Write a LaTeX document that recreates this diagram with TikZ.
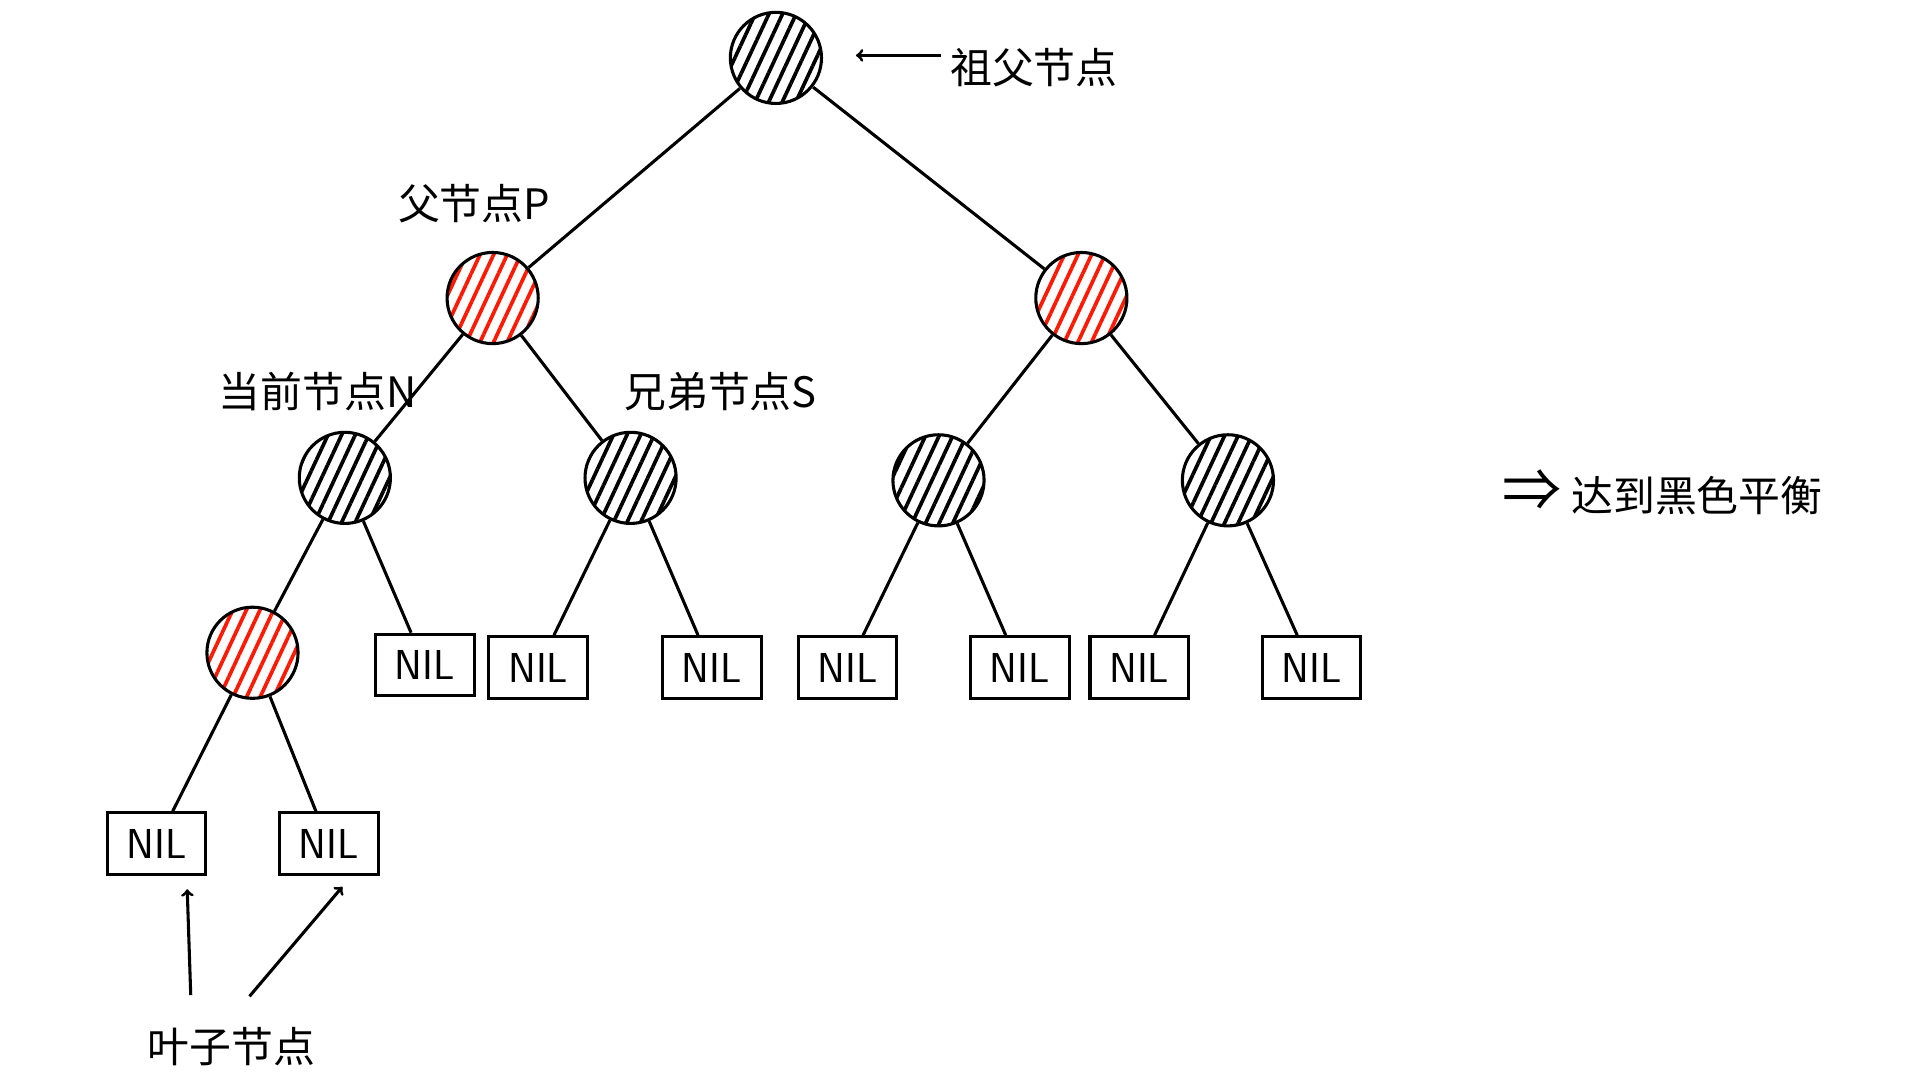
\documentclass[tikz,border=0pt]{standalone}
\usepackage{fontspec}
\newfontfamily\cjk{Noto Sans CJK SC}
\usetikzlibrary{patterns.meta}
\tikzset{
  blk/.style={circle, draw, line width=2.5pt, minimum size=74pt, inner sep=0pt,
    pattern={Lines[angle=65,distance=10pt,line width=3pt]}, pattern color=black},
  red/.style={blk, pattern color=red!80!orange},
  nil/.style={rectangle, draw, line width=2.5pt, minimum width=80pt, minimum height=50pt,
    font=\fontsize{34}{34}\selectfont\sffamily},
  lbl/.style={font=\fontsize{34}{34}\selectfont\cjk},
  edge/.style={line width=2.5pt},
  connect/.style={-to, line width=2.5pt, shorten <=4pt}
}
\begin{document}
\begin{tikzpicture}[x=1pt,y=-1pt]
  \useasboundingbox (0,0) rectangle (1550,877);
  \node[blk] (G) at (630,47) {};
  \node[red] (P) at (400,242) {};
  \node[red] (U) at (878,242) {};
  \node[blk] (N) at (280,388) {};
  \node[blk] (S) at (512,388) {};
  \node[blk] (UL) at (762,390) {};
  \node[blk] (UR) at (997,390) {};
  \node[red] (R) at (205,530) {};
  \node[nil] (NR) at (345,540) {NIL};
  \node[nil] (SL) at (437,542) {NIL};
  \node[nil] (SR) at (578,542) {NIL};
  \node[nil] (ULL) at (688,542) {NIL};
  \node[nil] (ULR) at (828,542) {NIL};
  \node[nil] (URL) at (925,542) {NIL};
  \node[nil] (URR) at (1065,542) {NIL};
  \node[nil] (RL) at (127,685) {NIL};
  \node[nil] (RR) at (267,685) {NIL};
  \foreach \a/\b in {G/P,G/U,P/N,P/S,U/UL,U/UR,N/R,N/NR,S/SL,S/SR,UL/ULL,UL/ULR,UR/URL,UR/URR,R/RL,R/RR}
    \draw[edge] (\a) -- (\b);
  % labels
  \node[lbl, anchor=west] (GL) at (768,55) {祖父节点};
  \coordinate (gtip) at (695,45);
  \draw[connect] (GL.west |- gtip) -- (gtip);
  \node[lbl] (PL) at (385,165) {父节点P};
  \node[lbl] (NL) at (258,318) {当前节点N};
  \node[lbl] (SL2) at (585,318) {兄弟节点S};
  \node[lbl] (res) at (1350,400) {{\fontsize{48}{48}\selectfont ⇒} 达到黑色平衡};
  \node[lbl] (leaf) at (188,850) {叶子节点};
  \coordinate (a1) at (155,812);
  \coordinate (a2) at (200,812);
  \coordinate (t1) at (152,722);
  \coordinate (t2) at (278,720);
  \draw[connect] (a1) -- (t1);
  \draw[connect] (a2) -- (t2);
\end{tikzpicture}
\end{document}
